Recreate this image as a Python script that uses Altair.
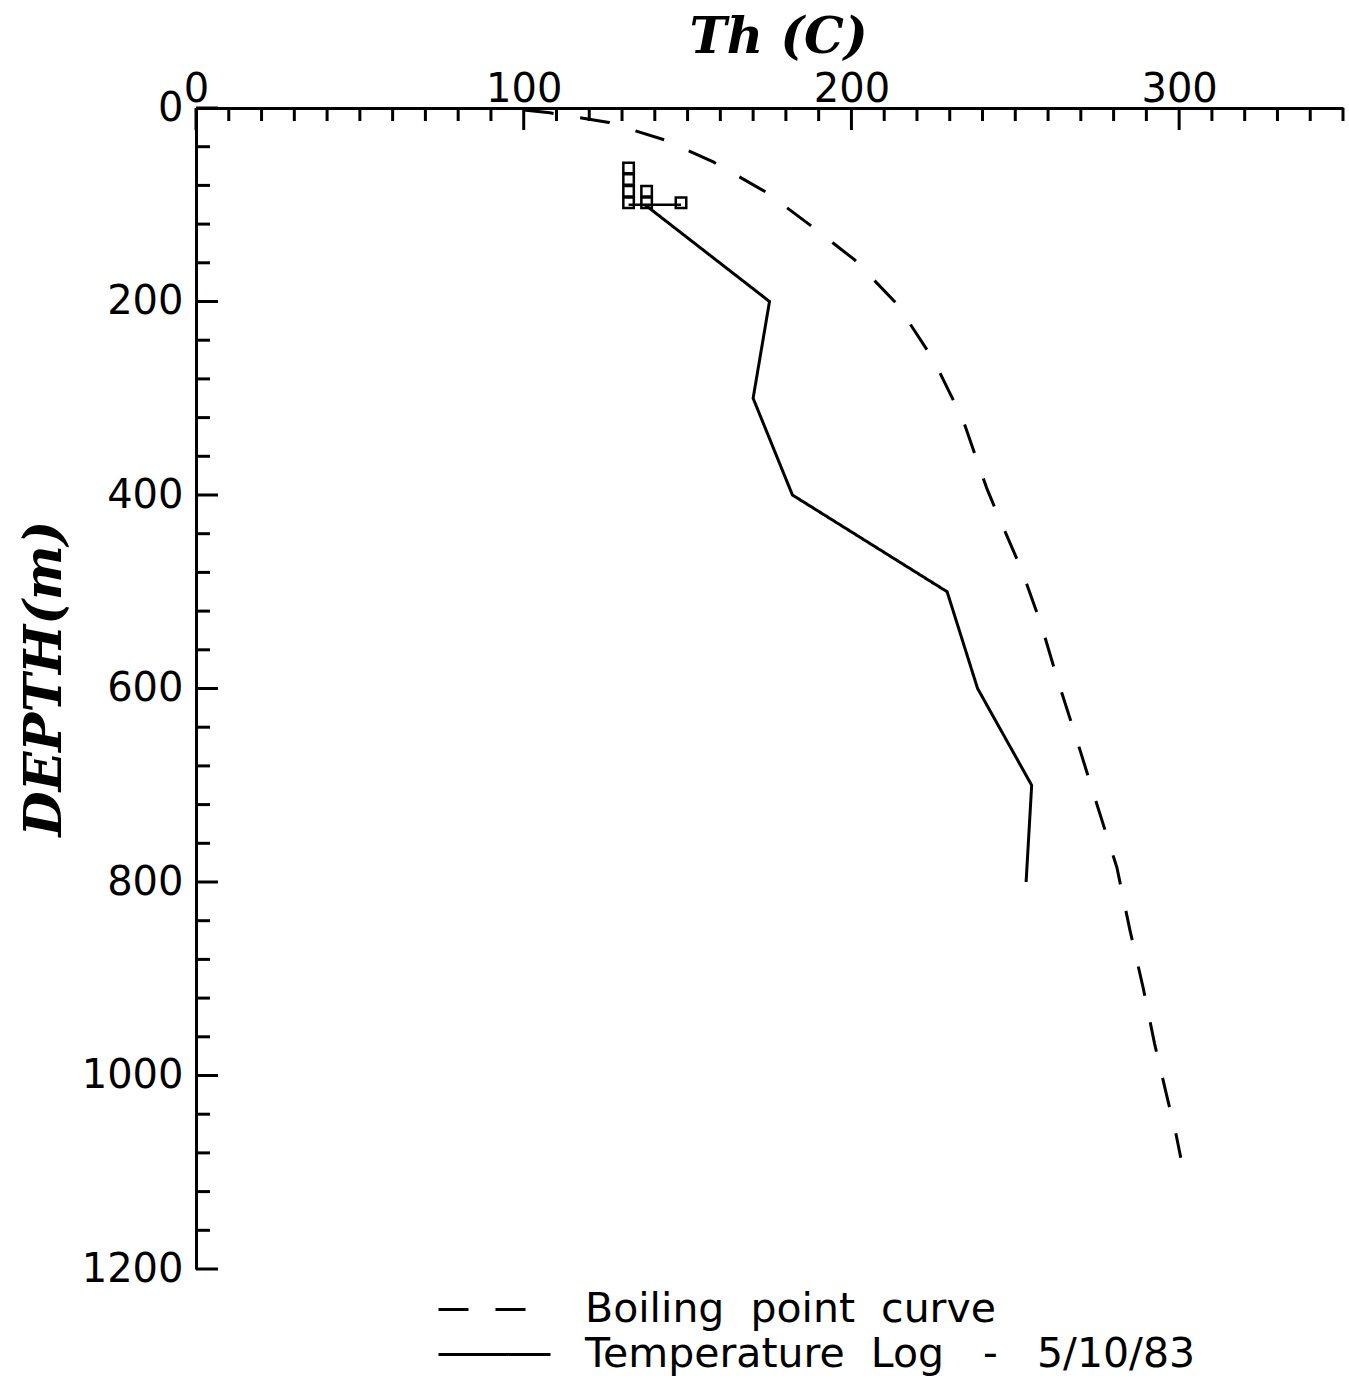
import altair as alt
import pandas as pd

# ---- data ----
series_names = ["Boiling\u00a0\u00a0point\u00a0\u00a0curve",
                "Temperature\u00a0\u00a0Log\u00a0\u00a0\u00a0-\u00a0\u00a0\u00a05/10/83"]

bp_depth = [2, 5, 15, 33, 56, 87, 120, 157, 203, 260, 322, 394, 423, 478,
            535, 592, 650, 710, 785, 850, 909, 967, 1025, 1055, 1085]
bp_temp = [100, 108, 126, 143, 158, 174, 187, 201, 214, 225, 234, 241.4, 245,
           252, 258, 263, 268.5, 274, 281, 285, 289, 292.5, 296.5, 298.7, 300.5]

log_depth = [100, 200, 300, 400, 500, 600, 700, 800]
log_temp = [137, 175, 170, 182, 229.2, 238.5, 255, 253.3]

fi_temp = [132, 132, 132, 132, 137.5, 137.5, 148]
fi_depth = [98, 86, 74, 62, 98, 86, 98]
base_temp = [132, 148]
base_depth = [100, 100]

x_labels = [0, 100, 200, 300]
y_labels = [0, 200, 400, 600, 800, 1000, 1200]

# ---- tables ----
lines = pd.DataFrame(
    {"series": [series_names[0]] * len(bp_depth) + [series_names[1]] * len(log_depth),
     "T": bp_temp + log_temp,
     "depth": bp_depth + log_depth})
squares = pd.DataFrame({"T": fi_temp, "depth": fi_depth})
base = pd.DataFrame({"T": base_temp, "depth": base_depth})

x_minor = pd.DataFrame({"T": [v for v in range(0, 351, 10) if v % 100 != 0]})
x_major = pd.DataFrame({"T": x_labels})
y_minor = pd.DataFrame({"depth": [v for v in range(0, 1201, 40) if v % 200 != 0]})
y_major = pd.DataFrame({"depth": y_labels})

xs = alt.Scale(domain=[0, 350], nice=False, zero=False)
ys = alt.Scale(domain=[0, 1200], nice=False, zero=False, reverse=True)

x_axis = alt.Axis(orient="top", values=x_labels, format="d", ticks=False, tickSize=0,
                  grid=False, domain=True, domainColor="black", domainWidth=3,
                  labelFont="DejaVu Sans", labelFontSize=40, labelColor="black",
                  labelPadding=7, labelBaseline="alphabetic", labelFlush=False,
                  title="Th (C)", titleFont="DejaVu Serif", titleFontSize=50,
                  titleFontStyle="italic", titleFontWeight="bold", titleColor="black",
                  titleX=582, titleY=-56, titleBaseline="alphabetic")
y_axis = alt.Axis(orient="left", values=y_labels, format="d", ticks=False, tickSize=0,
                  grid=False, domain=True, domainColor="black", domainWidth=3,
                  labelFont="DejaVu Sans", labelFontSize=40, labelColor="black",
                  labelPadding=13, labelFlush=False,
                  title="DEPTH(m)", titleFont="DejaVu Serif", titleFontSize=52,
                  titleFontStyle="italic", titleFontWeight="bold", titleColor="black",
                  titleX=-136, titleY=570, titleBaseline="alphabetic", titleAngle=270)

X = alt.X("T:Q", scale=xs, axis=x_axis)
Y = alt.Y("depth:Q", scale=ys, axis=y_axis)

legend = alt.Legend(orient="none", legendX=277, legendY=1180, title=None,
                    symbolType="M-2.8,0H2.8", symbolSize=1600, symbolStrokeWidth=3,
                    symbolStrokeColor="black", labelFont="DejaVu Sans",
                    labelFontSize=41, labelColor="black", labelOffset=69,
                    labelLimit=1000, padding=0, rowPadding=3, direction="vertical")

line_layer = alt.Chart(lines).mark_line(strokeWidth=3, color="black").encode(
    x=X, y=Y,
    strokeDash=alt.StrokeDash("series:N",
                              scale=alt.Scale(domain=series_names, range=[[30, 27], [1, 0]]),
                              legend=legend),
    order=alt.Order("depth:Q"),
)

sq_layer = alt.Chart(squares).mark_point(shape="square", filled=False, size=110,
                                         strokeWidth=2.5, color="black", opacity=1).encode(
    x=X, y=Y)

base_layer = alt.Chart(base).mark_line(strokeWidth=2.5, color="black").encode(x=X, y=Y)

xminor_layer = alt.Chart(x_minor).mark_rule(strokeWidth=3, color="black").encode(
    x=X, y=alt.value(0), y2=alt.value(13))
xmajor_layer = alt.Chart(x_major).mark_rule(strokeWidth=3, color="black").encode(
    x=X, y=alt.value(0), y2=alt.value(22))
yminor_layer = alt.Chart(y_minor).mark_rule(strokeWidth=3, color="black").encode(
    y=Y, x=alt.value(0), x2=alt.value(14))
ymajor_layer = alt.Chart(y_major).mark_rule(strokeWidth=3, color="black").encode(
    y=Y, x=alt.value(0), x2=alt.value(22))

chart = alt.layer(line_layer, sq_layer, base_layer, xminor_layer, xmajor_layer,
                  yminor_layer, ymajor_layer).properties(
    width=1147, height=1161,
    autosize=alt.AutoSizeParams(type="none"),
    padding={"left": 196, "top": 108, "right": 6, "bottom": 109},
    background="white",
).configure_view(stroke=None)

chart.save("out.html", embed_options={"renderer": "svg", "actions": False})
